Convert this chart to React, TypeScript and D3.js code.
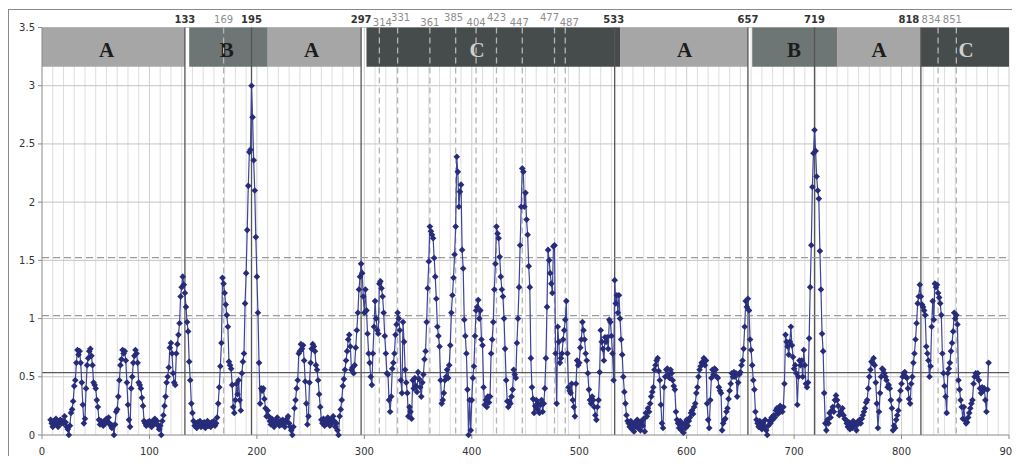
import React, { useEffect, useRef } from "react";
import * as d3 from "d3";

const width = 1012;
const height = 456;
const margin = { top: 19.5, left: 34, bottom: 29, right: 11 };
const iwidth = width - margin.left - margin.right;
const iheight = height - margin.top - margin.bottom;

// observed series, one value per day, split in stretches
const stretch1Start = 8;
const stretch1 = [
  0.13, 0.1, 0.07, 0.12, 0.09, 0.14, 0.1, 0.07, 0.11, 0.13,
  0.1, 0.12, 0.1, 0.16, 0.11, 0.07, 0.05, 0.0, 0.08, 0.19,
  0.22, 0.29, 0.42, 0.47, 0.62, 0.73, 0.69, 0.72, 0.62, 0.45,
  0.26, 0.1, 0.14, 0.4, 0.6, 0.66, 0.72, 0.74, 0.68, 0.6,
  0.45, 0.43, 0.4, 0.3, 0.24, 0.13, 0.09, 0.12, 0.1, 0.08,
  0.12, 0.1, 0.14, 0.11, 0.15, 0.1, 0.08, 0.06, 0.08, 0.0,
  0.09, 0.2, 0.22, 0.33, 0.47, 0.6, 0.65, 0.73, 0.7, 0.72,
  0.64, 0.45, 0.26, 0.13, 0.07, 0.4, 0.5, 0.62, 0.68, 0.73,
  0.7, 0.62, 0.45, 0.43, 0.4, 0.32, 0.25, 0.12, 0.1, 0.08,
  0.11, 0.09, 0.12, 0.1, 0.07, 0.12, 0.09, 0.14, 0.1, 0.12,
  0.08, 0.05, 0.08, 0.0, 0.12, 0.17, 0.25, 0.33, 0.45, 0.5,
  0.58, 0.75, 0.79, 0.7, 0.53, 0.45, 0.43, 0.7, 0.78, 0.86,
  0.96, 1.19, 1.27, 1.36, 1.29, 1.22,
];

const stretch2Start = 134;
const stretch2 = [
  1.1, 0.97, 0.89, 0.63, 0.47, 0.27, 0.19, 0.12, 0.08, 0.1,
  0.06, 0.11, 0.09, 0.12, 0.07, 0.1, 0.08, 0.11, 0.06, 0.09,
  0.12, 0.08, 0.1, 0.07, 0.11, 0.09, 0.12, 0.08, 0.1, 0.15,
  0.27, 0.41, 0.59, 0.79, 1.35, 1.3, 1.22, 1.12, 1.03, 0.93,
  0.63, 0.6, 0.57, 0.43, 0.24, 0.19, 0.3, 0.44, 0.35, 0.47,
  0.3, 0.21, 0.53, 0.63, 0.7, 1.13, 1.39, 1.76, 2.14, 2.43,
  2.45, 3.0, 2.73, 2.36, 2.1, 1.7, 1.36, 1.05, 0.62, 0.27,
  0.4, 0.38, 0.4, 0.31, 0.23, 0.16, 0.21, 0.16, 0.12, 0.09,
  0.14, 0.1, 0.07, 0.12, 0.1, 0.15, 0.11, 0.08, 0.12, 0.09,
  0.13, 0.1, 0.07, 0.11, 0.14, 0.16, 0.1, 0.07, 0.04, 0.0,
  0.07, 0.23, 0.3, 0.4, 0.47, 0.7, 0.72, 0.78, 0.74, 0.77,
  0.64, 0.46, 0.27, 0.09, 0.16, 0.45, 0.62, 0.74, 0.78, 0.76,
  0.72, 0.6, 0.56, 0.47, 0.35, 0.24, 0.13, 0.1, 0.14, 0.08,
  0.12, 0.1, 0.15, 0.11, 0.08, 0.13, 0.1, 0.16, 0.12, 0.07,
  0.1, 0.04, 0.0, 0.16, 0.22, 0.3, 0.42, 0.48, 0.56, 0.64,
  0.72, 0.82, 0.86, 0.76, 0.56, 0.58, 0.53, 0.6, 0.75, 0.9,
  1.05, 1.25, 1.36, 1.47,
];

const stretch3Start = 298;
const stretch3 = [
  1.39, 1.19, 1.05, 1.25, 1.07, 0.87, 0.7, 0.62, 0.5, 0.43,
  0.7, 0.93, 1.15, 1.0, 0.9, 0.87, 1.3, 1.32, 1.26, 1.19,
  1.05, 0.85, 0.7, 0.53, 0.52, 0.3, 0.2, 0.33, 0.57, 0.62,
  0.7, 0.86, 0.95, 1.05, 1.0, 0.9, 0.47, 0.36, 0.97, 0.8,
  0.56, 0.45, 0.36, 0.16, 0.24, 0.2, 0.14, 0.47, 0.4, 0.49,
  0.42, 0.37, 0.54, 0.48, 0.41, 0.33, 0.45, 0.52, 0.65, 0.72,
  0.97, 1.26, 1.49, 1.79, 1.75, 1.72, 1.69, 1.52, 1.36, 1.17,
  0.93, 0.85, 0.76, 0.47, 0.27, 0.3, 0.36, 0.47, 0.5, 0.56,
  0.49, 0.6, 0.77, 1.05, 1.2, 1.35, 1.55, 1.79, 2.39, 2.26,
  1.96, 2.09, 2.15, 1.59, 1.43, 0.99, 0.85, 0.7, 0.39, 0.0,
  0.3, 0.04, 0.3, 0.49, 0.59, 0.85, 1.07, 1.1, 1.16, 1.0,
  1.07, 0.82, 0.77, 0.41, 0.26, 0.3, 0.24, 0.33, 0.28, 0.33,
  0.7, 0.82, 0.97, 1.25, 1.47, 1.79, 1.73, 1.69, 1.53, 1.36,
  1.25, 1.19, 1.0, 0.74, 0.47, 0.29, 0.24, 0.29, 0.27, 0.33,
  0.39, 0.56, 0.52, 0.49, 0.79, 1.0, 1.27, 1.63, 1.96, 2.29,
  2.26, 1.96, 2.08, 1.85, 1.72, 1.45, 1.27, 0.66, 0.41, 0.31,
  0.19, 0.25, 0.3, 0.22, 0.27, 0.19, 0.26, 0.3, 0.2, 0.27,
  0.4, 0.66, 1.1, 1.59, 1.5, 1.39, 1.3, 1.22, 1.62, 1.63,
  0.7, 0.27, 0.93, 0.8, 0.62, 0.66, 0.7, 0.82, 0.9, 0.99,
  1.15, 0.7, 0.41, 0.38, 0.36, 0.44, 0.3, 0.24, 0.16, 0.44,
  0.64, 0.6, 0.62, 0.75, 0.82, 0.97, 0.9, 0.82, 0.7, 0.64,
  0.53, 0.39, 0.3, 0.27, 0.33, 0.3, 0.24, 0.17, 0.13, 0.24,
  0.3, 0.54, 0.9, 0.8, 0.74, 0.64, 0.84, 0.8, 0.84, 0.74,
  0.99, 0.97, 0.85, 0.7, 0.47, 1.33,
];

const stretch4Start = 534;
const stretch4 = [
  1.13, 1.2, 1.05, 1.2, 1.0, 0.82, 0.69, 0.5, 0.37, 0.27,
  0.17, 0.12, 0.1, 0.07, 0.12, 0.05, 0.09, 0.03, 0.11, 0.07,
  0.13, 0.06, 0.1, 0.04, 0.12, 0.08, 0.14, 0.03, 0.19, 0.16,
  0.23, 0.2, 0.27, 0.33, 0.37, 0.41, 0.56, 0.6, 0.64, 0.66,
  0.55, 0.47, 0.26, 0.1, 0.06, 0.41, 0.5, 0.56, 0.57, 0.52,
  0.49, 0.56, 0.53, 0.47, 0.42, 0.39, 0.2, 0.13, 0.1, 0.06,
  0.12, 0.04, 0.09, 0.02, 0.1, 0.06, 0.13, 0.08, 0.12, 0.15,
  0.19, 0.21, 0.18, 0.24, 0.27, 0.36, 0.41, 0.5, 0.56, 0.59,
  0.62, 0.63, 0.66, 0.6, 0.64, 0.27, 0.13, 0.06, 0.3, 0.49,
  0.56, 0.52, 0.57, 0.56, 0.5, 0.49, 0.41, 0.38, 0.36, 0.04,
  0.1, 0.13, 0.14, 0.2, 0.23, 0.31, 0.38, 0.44, 0.53, 0.5,
  0.54, 0.5, 0.53, 0.33, 0.45, 0.52, 0.54, 0.6, 0.64, 0.74,
  0.93, 1.15, 1.1, 1.17,
];

const stretch5Start = 658;
const stretch5 = [
  1.07, 0.82, 0.73, 0.6, 0.47, 0.39, 0.2, 0.13, 0.1, 0.07,
  0.12, 0.08, 0.05, 0.11, 0.07, 0.13, 0.04, 0.0, 0.08, 0.12,
  0.1, 0.15, 0.13, 0.17, 0.15, 0.21, 0.23, 0.18, 0.2, 0.25,
  0.23, 0.2, 0.24, 0.44, 0.86, 0.8, 0.76, 0.69, 0.8, 0.93,
  0.77, 0.67, 0.57, 0.6, 0.53, 0.26, 0.5, 0.64, 0.6, 0.64,
  0.5, 0.73, 0.6, 0.44, 0.41, 0.45, 0.83, 1.27, 1.63, 2.13,
  2.42, 2.62, 2.44, 2.22, 2.1, 2.03, 1.58, 1.25, 0.87, 0.72,
  0.36, 0.1, 0.04, 0.13, 0.1, 0.19, 0.15, 0.21, 0.24, 0.2,
  0.3, 0.34, 0.3, 0.25, 0.17, 0.2, 0.19, 0.23, 0.17, 0.14,
  0.13, 0.1, 0.07, 0.11, 0.05, 0.09, 0.06, 0.12, 0.08, 0.1,
  0.04, 0.09, 0.12, 0.13, 0.1, 0.14, 0.17, 0.2, 0.23, 0.28,
  0.3, 0.4, 0.5, 0.56, 0.63, 0.62, 0.66, 0.6, 0.45, 0.27,
  0.06, 0.2, 0.36, 0.5, 0.57, 0.56, 0.53, 0.5, 0.47, 0.41,
  0.43, 0.4, 0.3, 0.23, 0.04, 0.08, 0.06, 0.13, 0.17, 0.21,
  0.3, 0.38, 0.44, 0.5, 0.53, 0.54, 0.5, 0.49, 0.4, 0.31,
  0.27, 0.44, 0.5, 0.62, 0.7, 0.82, 0.96, 1.13, 1.19, 1.29,
  1.19,
];

const stretch6Start = 819;
const stretch6 = [
  1.12, 1.1, 1.07, 1.03, 0.76, 0.7, 0.64, 0.5, 0.59, 0.93,
  1.15, 0.99, 1.3, 1.27, 1.29, 1.22, 1.18, 1.13, 1.03, 0.7,
  0.53, 0.42, 0.33, 0.19, 0.53, 0.57, 0.62, 0.72, 0.79, 0.89,
  1.05, 1.0, 1.03, 0.95, 0.47, 0.39, 0.3, 0.24, 0.14, 0.24,
  0.13, 0.1, 0.11, 0.15, 0.19, 0.23, 0.27, 0.3, 0.44, 0.5,
  0.53, 0.5, 0.53, 0.47, 0.4, 0.36, 0.41, 0.38, 0.4, 0.3,
  0.2, 0.39, 0.62,
];

// regimes shown in the strip at the top
const bandStarts = [0, 137, 210, 302, 538, 661, 740, 818];
const bandEnds = [133, 210, 297, 538, 657, 740, 818, 900];
const bandRegimes = ["A", "B", "A", "C", "A", "B", "A", "C"];
const bandLabelAt = [60, 172, 251, 405, 598, 700, 779, 860];

// change points
const solidEvents = [133, 195, 297, 533, 657, 719, 818];
const dashedEvents = [169, 314, 331, 361, 385, 404, 423, 447, 477, 487, 834, 851];
const raisedLabels = [331, 385, 423, 477];
const loweredLabels = [314, 361, 404, 447, 487];

// horizontal thresholds
const solidLevel = 0.535;
const dashedLevels = [1.025, 1.523];

const xTicks = [0, 100, 200, 300, 400, 500, 600, 700, 800, 900];
const yTicks = [0, 0.5, 1, 1.5, 2, 2.5, 3, 3.5];

const regimeFill: Record<string, string> = { A: "#a6a6a6", B: "#6e7675", C: "#464c4b" };
const regimeText: Record<string, string> = { A: "#1c1c1c", B: "#1c1c1c", C: "#cfcfcf" };
const bandFloor = 3.163;
const labelShift: Record<number, number> = {
  314: 3, 331: 3, 385: -2, 447: -3, 477: -5, 487: 4, 533: -1, 818: -12, 834: -7, 851: -4,
};

const App = () => {
  const svgRef = useRef<SVGSVGElement>(null);

  useEffect(() => {
    const stretches = [
      { start: stretch1Start, values: stretch1 },
      { start: stretch2Start, values: stretch2 },
      { start: stretch3Start, values: stretch3 },
      { start: stretch4Start, values: stretch4 },
      { start: stretch5Start, values: stretch5 },
      { start: stretch6Start, values: stretch6 },
    ];
    const data = stretches.flatMap((s) =>
      s.values.map((v, i) => ({ day: s.start + i, value: v }))
    );
    const bands = bandStarts.map((s, i) => ({
      start: s,
      end: bandEnds[i],
      regime: bandRegimes[i],
      labelAt: bandLabelAt[i],
    }));

    const svg = d3.select(svgRef.current);
    svg.selectAll("*").remove();

    const x = d3.scaleLinear().domain([0, 900]).range([0, iwidth]);
    const y = d3.scaleLinear().domain([0, 3.5]).range([iheight, 0]);

    svg.append("rect")
      .attr("x", 0.5).attr("y", 1.5)
      .attr("width", width + 50).attr("height", height + 50)
      .attr("fill", "white").attr("stroke", "#8a8a8a");

    const g = svg.append("g").attr("transform", `translate(${margin.left},${margin.top})`);

    // grid
    g.append("g").selectAll("line")
      .data(d3.range(10, 901, 10))
      .join("line")
      .attr("x1", (d) => x(d)).attr("x2", (d) => x(d))
      .attr("y1", y(0)).attr("y2", y(3.5))
      .attr("stroke", (d) => (d % 100 === 0 ? "#cfcfcf" : "#dedede"))
      .attr("stroke-width", 1);

    g.append("g").selectAll("line")
      .data(yTicks.slice(1))
      .join("line")
      .attr("x1", 0).attr("x2", iwidth)
      .attr("y1", (d) => y(d)).attr("y2", (d) => y(d))
      .attr("stroke", "#c4c4c4");

    // regime strip
    const bg = g.append("g");
    bg.selectAll("rect")
      .data(bands)
      .join("rect")
      .attr("x", (d) => x(d.start))
      .attr("width", (d) => x(d.end) - x(d.start))
      .attr("y", y(3.5))
      .attr("height", y(bandFloor) - y(3.5))
      .attr("fill", (d) => regimeFill[d.regime]);
    bg.selectAll("text")
      .data(bands)
      .join("text")
      .attr("x", (d) => x(d.labelAt))
      .attr("y", y(3.5) + 29.5)
      .attr("text-anchor", "middle")
      .attr("font-family", "'Liberation Serif', 'Times New Roman', serif")
      .attr("font-weight", "bold")
      .attr("font-size", 21)
      .attr("fill", (d) => regimeText[d.regime])
      .text((d) => d.regime);

    // change-point lines
    g.append("g").selectAll("line")
      .data(dashedEvents)
      .join("line")
      .attr("x1", (d) => x(d)).attr("x2", (d) => x(d))
      .attr("y1", y(3.5)).attr("y2", y(0))
      .attr("stroke", "#b4b4b4")
      .attr("stroke-width", 1.3)
      .attr("stroke-dasharray", "6,4");

    g.append("g").selectAll("line")
      .data(solidEvents)
      .join("line")
      .attr("x1", (d) => x(d)).attr("x2", (d) => x(d))
      .attr("y1", y(3.5)).attr("y2", y(0))
      .attr("stroke", "#555")
      .attr("stroke-width", 1.3);

    const labelY = (d: number) =>
      raisedLabels.includes(d) ? -6.5 : loweredLabels.includes(d) ? -1.5 : -4.5;

    g.append("g").selectAll("text")
      .data([...solidEvents, ...dashedEvents])
      .join("text")
      .attr("x", (d) => x(d) + (labelShift[d] || 0))
      .attr("y", labelY)
      .attr("text-anchor", "middle")
      .attr("font-family", "'DejaVu Sans', Verdana, sans-serif")
      .attr("font-size", 10)
      .attr("font-weight", (d) => (solidEvents.includes(d) ? "bold" : "normal"))
      .attr("fill", (d) => (solidEvents.includes(d) ? "#333" : "#8c8c8c"))
      .text((d) => d);

    // thresholds
    g.append("line")
      .attr("x1", 0).attr("x2", iwidth)
      .attr("y1", y(solidLevel)).attr("y2", y(solidLevel))
      .attr("stroke", "#5a5a5a").attr("stroke-width", 1.2);
    g.append("g").selectAll("line")
      .data(dashedLevels)
      .join("line")
      .attr("x1", 0).attr("x2", iwidth)
      .attr("y1", (d) => y(d)).attr("y2", (d) => y(d))
      .attr("stroke", "#9a9a9a")
      .attr("stroke-width", 1.3)
      .attr("stroke-dasharray", "7,4");

    // axes
    g.append("line")
      .attr("x1", 0).attr("x2", 0).attr("y1", y(0)).attr("y2", y(3.5))
      .attr("stroke", "#8a8a8a");
    g.append("line")
      .attr("x1", 0).attr("x2", iwidth).attr("y1", y(0)).attr("y2", y(0))
      .attr("stroke", "#8a8a8a");
    g.append("g").selectAll("line")
      .data(yTicks)
      .join("line")
      .attr("x1", -4).attr("x2", 0)
      .attr("y1", (d) => y(d)).attr("y2", (d) => y(d))
      .attr("stroke", "#8a8a8a");
    g.append("g").selectAll("line")
      .data(xTicks)
      .join("line")
      .attr("x1", (d) => x(d)).attr("x2", (d) => x(d))
      .attr("y1", y(0)).attr("y2", y(0) + 4)
      .attr("stroke", "#8a8a8a");

    g.append("g").selectAll("text")
      .data(yTicks)
      .join("text")
      .attr("x", -7)
      .attr("y", (d) => y(d))
      .attr("dy", "0.35em")
      .attr("text-anchor", "end")
      .attr("font-family", "'DejaVu Sans', Verdana, sans-serif")
      .attr("font-size", 10)
      .attr("fill", "#333")
      .text((d) => d);

    g.append("g").selectAll("text")
      .data(xTicks)
      .join("text")
      .attr("x", (d) => x(d))
      .attr("y", iheight + 20)
      .attr("text-anchor", "middle")
      .attr("font-family", "'DejaVu Sans', Verdana, sans-serif")
      .attr("font-size", 10)
      .attr("fill", "#333")
      .text((d) => d);

    // series
    const line = d3.line<{ day: number; value: number }>()
      .x((d) => x(d.day))
      .y((d) => y(d.value));
    g.append("path")
      .datum(data)
      .attr("d", line)
      .attr("fill", "none")
      .attr("stroke", "#3f4496")
      .attr("stroke-width", 1.2);

    const diamond = d3.symbol(d3.symbolSquare, 22)();
    g.append("g").selectAll("path")
      .data(data)
      .join("path")
      .attr("d", diamond)
      .attr("transform", (d) => `translate(${x(d.day)},${y(d.value)}) rotate(45)`)
      .attr("fill", "#272c7a");
  }, []);

  return (
    <svg
      ref={svgRef}
      width={width}
      height={height}
      style={{ display: "block", marginBottom: -8 }}
    />
  );
};

export default App;
